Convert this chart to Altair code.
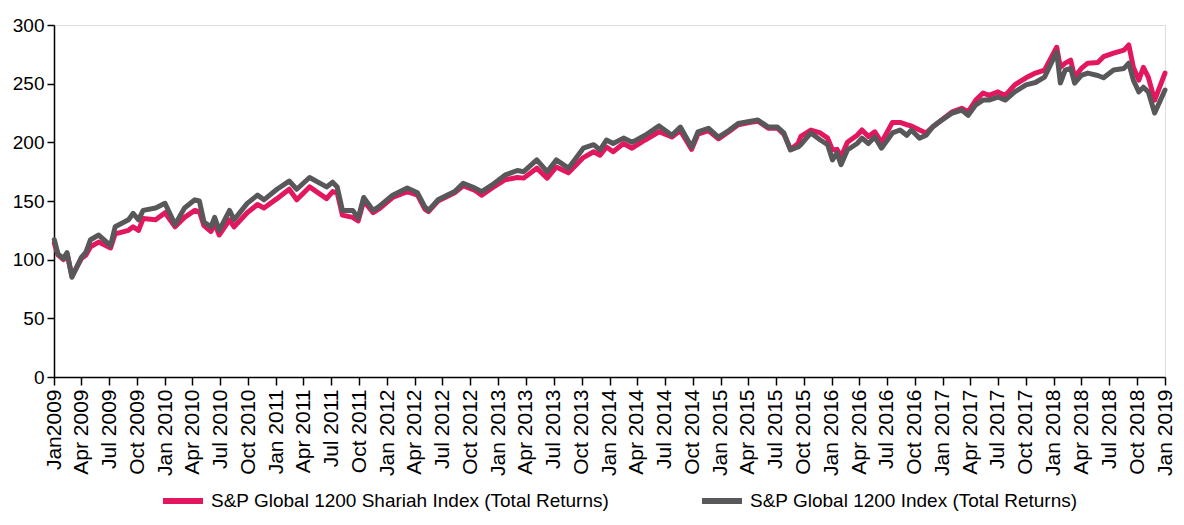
import altair as alt
import pandas as pd

SHARIAH = "S&P Global 1200 Shariah Index (Total Returns)"
GLOBAL = "S&P Global 1200 Index (Total Returns)"

dates = [
    "2009-01-02", "2009-01-14", "2009-02-01", "2009-02-13", "2009-03-01", "2009-04-01",
    "2009-04-16", "2009-05-01", "2009-05-28", "2009-07-06", "2009-07-21", "2009-09-03",
    "2009-09-18", "2009-10-06", "2009-10-21", "2009-12-01", "2010-01-01", "2010-02-03",
    "2010-03-06", "2010-04-09", "2010-04-24", "2010-05-09", "2010-06-01", "2010-06-13",
    "2010-06-28", "2010-08-01", "2010-08-16", "2010-09-28", "2010-11-01", "2010-11-22",
    "2011-01-04", "2011-02-13", "2011-03-10", "2011-04-21", "2011-06-16", "2011-07-06",
    "2011-07-21", "2011-08-07", "2011-09-10", "2011-09-28", "2011-10-16", "2011-11-16",
    "2011-12-04", "2012-01-19", "2012-03-07", "2012-04-10", "2012-05-04", "2012-05-16",
    "2012-06-16", "2012-08-10", "2012-09-07", "2012-10-16", "2012-11-07", "2012-12-10",
    "2013-01-22", "2013-03-04", "2013-03-25", "2013-05-07", "2013-06-10", "2013-07-10",
    "2013-08-19", "2013-10-07", "2013-11-10", "2013-12-01", "2013-12-22", "2014-01-13",
    "2014-02-16", "2014-03-16", "2014-04-28", "2014-06-13", "2014-07-25", "2014-08-22",
    "2014-09-28", "2014-10-19", "2014-11-22", "2014-12-25", "2015-01-28", "2015-02-28",
    "2015-04-10", "2015-05-04", "2015-06-07", "2015-07-07", "2015-07-28", "2015-08-19",
    "2015-09-13", "2015-09-22", "2015-10-25", "2015-11-25", "2015-12-19", "2016-01-04",
    "2016-01-19", "2016-02-01", "2016-02-22", "2016-03-25", "2016-04-10", "2016-05-01",
    "2016-05-22", "2016-06-13", "2016-07-19", "2016-08-13", "2016-09-04", "2016-09-19",
    "2016-10-16", "2016-11-07", "2016-11-28", "2016-12-28", "2017-02-01", "2017-03-04",
    "2017-03-25", "2017-04-19", "2017-05-13", "2017-06-01", "2017-07-01", "2017-07-25",
    "2017-08-25", "2017-10-01", "2017-11-01", "2017-12-01", "2018-01-10", "2018-01-22",
    "2018-02-07", "2018-02-25", "2018-03-10", "2018-04-01", "2018-04-22", "2018-05-25",
    "2018-06-13", "2018-07-16", "2018-08-19", "2018-09-04", "2018-09-19", "2018-10-07",
    "2018-10-22", "2018-11-07", "2018-11-28", "2019-01-01",
]

global_vals = [
    117, 105, 101, 106, 85, 102,
    106.5, 117, 121, 112, 128, 134,
    139.5, 134, 142, 144, 148, 130,
    144, 151, 150, 132, 128, 136,
    125, 142, 134, 148, 155, 151,
    160, 167, 160, 170, 162, 166,
    162, 142, 142, 135.5, 153, 142,
    145, 155, 161, 157, 145, 142,
    151, 158, 165, 161, 158, 163.5,
    172, 176, 175, 185, 175, 185,
    178, 195, 198, 193.5, 202, 199,
    203.6, 200, 206, 214, 206, 213,
    196, 209, 212, 204.5, 210, 216,
    218, 219, 213, 213, 208, 193.5,
    196, 198, 208, 202, 198, 185,
    191, 181, 193.5, 199, 203.6, 199,
    204.5, 195, 208, 210.5, 206, 210.5,
    203.6, 206, 213, 219, 225, 227.5,
    223, 232, 236, 236, 238.6, 236,
    243, 249, 251, 255.6, 277, 250.5,
    261.6, 263, 250.5, 257, 259, 257,
    255, 261.6, 263, 267.5, 253, 243,
    247, 243, 225, 244.6,
]

shariah_vals = [
    114, 104, 100, 105, 86, 101,
    104, 111, 115, 110, 122, 125,
    128, 125, 135, 134, 140, 128,
    136, 142, 141, 129, 124, 131,
    121, 134, 128, 140, 147, 144,
    152, 160, 151, 162, 152, 158,
    157, 138, 136, 133, 150, 140,
    143, 153, 158, 155, 143, 141,
    150, 157, 163, 159, 155, 161,
    168, 170, 169.5, 178, 169.5, 179,
    174, 187, 192, 189, 196, 192,
    199, 195, 202, 209, 204.5, 210,
    194, 207, 210, 203, 209, 215,
    217, 218, 212, 212, 207, 194,
    199, 205, 210.5, 208, 203.6, 193.5,
    194, 187.5, 200, 206, 210.5, 205,
    209, 200, 217, 217, 215, 214,
    210.5, 208, 213, 219, 226, 229,
    226, 236, 242, 240, 243, 240,
    249, 255, 259, 261.6, 281, 264,
    267.5, 270, 255.6, 263, 267.5, 268,
    273, 276, 278.6, 283, 264, 253,
    264, 255.6, 236, 259,
]

tick_dates = [(y, m) for y in range(2009, 2019) for m in (1, 4, 7, 10)] + [(2019, 1)]

PINK = "#E2175F"
GRAY = "#58585A"
FONT = "Liberation Sans"

df = pd.DataFrame({
    "date": dates * 2,
    "value": shariah_vals + global_vals,
    "series": [SHARIAH] * len(dates) + [GLOBAL] * len(dates),
})

color = alt.Color(
    "series:N",
    scale=alt.Scale(domain=[SHARIAH, GLOBAL], range=[PINK, GRAY]),
    legend=alt.Legend(
        orient="none",
        legendX=106,
        legendY=453,
        direction="horizontal",
        title=None,
        symbolType="stroke",
        symbolStrokeWidth=6,
        symbolSize=1600,
        labelFontSize=19,
        labelFont=FONT,
        labelColor="black",
        columnPadding=80,
        labelLimit=0,
        labelOffset=5,
    ),
)

x = alt.X(
    "date:T",
    scale=alt.Scale(
        type="utc",
        domain=[alt.DateTime(year=2009, month=1, date=1, utc=True),
                alt.DateTime(year=2019, month=1, date=1, utc=True)],
    ),
    axis=alt.Axis(
        title=None,
        values=[alt.DateTime(year=y, month=m, date=1, utc=True) for y, m in tick_dates],
        labelExpr="datum.index == 0 ? 'Jan2009' : utcFormat(datum.value, '%b %Y')",
        labelAngle=270,
        labelFontSize=21,
        labelFont=FONT,
        labelColor="black",
        labelPadding=4,
        tickSize=8,
        tickColor="black",
        tickWidth=1.5,
        domainColor="black",
        domainWidth=1.5,
        grid=False,
        labelOverlap=False,
        labelBound=False,
        labelFlush=False,
    ),
)

y = alt.Y(
    "value:Q",
    scale=alt.Scale(domain=[0, 300], nice=False),
    axis=alt.Axis(
        title=None,
        values=[0, 50, 100, 150, 200, 250, 300],
        labelFontSize=19,
        labelFont=FONT,
        labelColor="black",
        labelPadding=3,
        tickSize=7,
        tickColor="black",
        tickWidth=1.5,
        domainColor="black",
        domainWidth=1.5,
        grid=False,
    ),
)

base = alt.Chart(df).mark_line(strokeWidth=5, strokeJoin="round", strokeCap="round")

pink_layer = base.transform_filter(alt.datum.series == SHARIAH).encode(x=x, y=y, color=color)
gray_layer = base.transform_filter(alt.datum.series == GLOBAL).encode(x=x, y=y, color=color)

chart = alt.layer(pink_layer, gray_layer).properties(
    width=1111,
    height=352,
    autosize=alt.AutoSizeParams(type="none"),
    padding={"left": 46, "top": 17, "right": 11, "bottom": 135},
).configure_view(stroke=None).configure(background="white")

chart.save("out.html", embed_options={"renderer": "svg", "actions": False})
